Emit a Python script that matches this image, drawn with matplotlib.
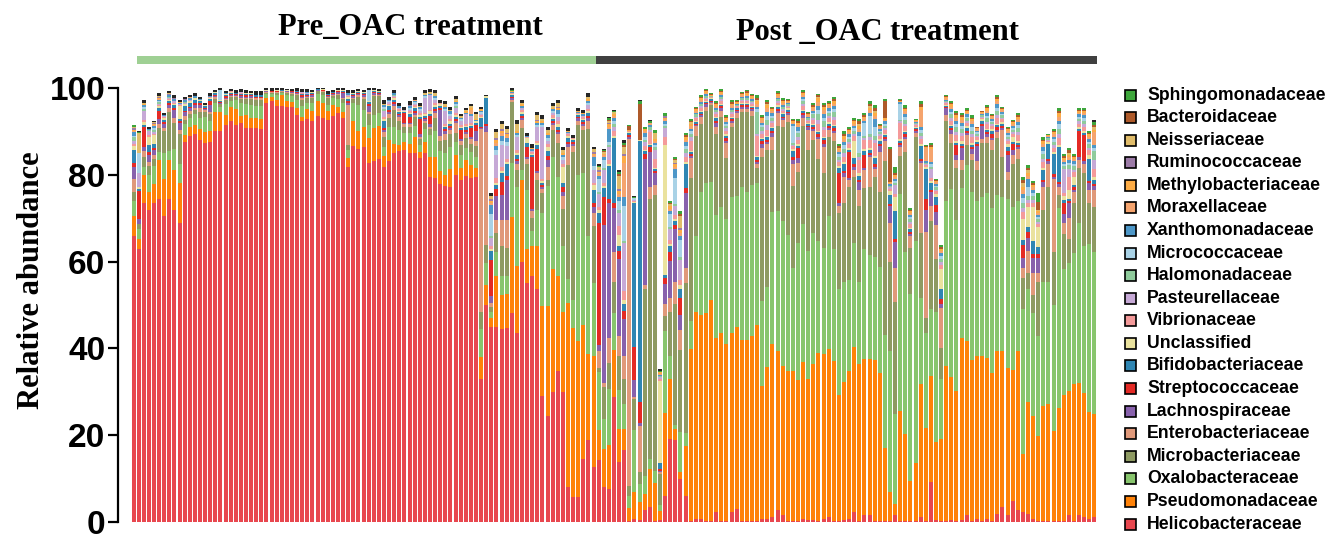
import numpy as np
import matplotlib.pyplot as plt
from matplotlib.patches import Rectangle

# relative abundance per sample (bars 1-91 pre, 92-189 post), bottom to top
helico = [66, 63, 73.5, 72, 73.5, 74.5, 70.5, 74.5, 72, 69,
          87.6, 89, 89.5, 88, 87.4, 87.5, 90, 90, 91.4, 92.3,
          91.4, 92, 90.7, 90.7, 90.8, 90.5, 96.6, 97, 95.8, 95.8,
          95.6, 95.7, 93.8, 92.3, 92.9, 92.4, 93.6, 93.2, 92.6, 93.6,
          94.2, 93, 81.8, 86.7, 86, 86.5, 82.8, 83.2, 83.7, 81.8,
          83.2, 85, 85.4, 85.6, 85.1, 85, 83.8, 85, 79.6, 79.2,
          77.9, 77.5, 77.3, 79.9, 78.8, 79.8, 79.2, 79.5, 33, 50,
          45, 45, 44.4, 44.8, 48.2, 43.6, 59.8, 55, 56.7, 53.8,
          29, 24.5, 29.9, 34.8, 29.9, 8, 5.7, 5.7, 14.5, 18.8,
          12.6, 14.2, 8, 7.7, 28.7, 13.8, 16.5, 0.3, 0.8, 0.4,
          2.7, 3.4, 0.3, 0.5, 6.1, 19.1, 18.8, 10, 6.1, 0.3,
          0.8, 0.8, 0.3, 0.2, 2.3, 0.3, 0.3, 2.3, 3, 0.3,
          0.3, 0.3, 0.3, 0.8, 0.8, 1.1, 2.7, 1.5, 0.3, 0.3,
          0.3, 0.8, 0.4, 0.4, 0.3, 0.8, 1.1, 0.3, 0.2, 0.4,
          0.8, 2.3, 0.3, 1.5, 1.5, 0.3, 0.3, 0.3, 0.3, 1.5,
          0.3, 0.3, 0.3, 0.3, 1.1, 0.3, 9.2, 0.5, 0.3, 0.3,
          0.4, 0.3, 0.4, 1.5, 0.3, 0.8, 0.3, 0.8, 0.3, 1.9,
          3.4, 1.5, 4.9, 2.7, 2.3, 1.9, 0.8, 0.3, 0.3, 0.3,
          0.3, 0.3, 0.3, 1.5, 0.3, 1.5, 1.1, 0.8, 1.1]
pseudo = [4.5, 2.3, 6.5, 4, 4.4, 8.8, 8.5, 9, 9, 9.2,
          1.5, 2, 2, 2.5, 2.5, 2.5, 4.5, 4.5, 2.3, 3.3,
          3.8, 1.5, 3, 2.5, 2.2, 2.3, 1.2, 1, 1.5, 2.5,
          1.5, 1, 1.5, 1, 2.2, 2.2, 3.3, 3.3, 2, 2.5,
          1.5, 1.5, 2, 5.6, 4, 4.5, 5.6, 7.5, 7.5, 2.5,
          4.8, 2, 1.5, 2, 2, 3.8, 1.5, 2.5, 4.5, 5,
          3, 2.5, 4, 4.7, 2.7, 3.6, 3, 2, 5, 4.6,
          2, 11.7, 8, 7.7, 22, 15.3, 19, 7.8, 6.9, 9.8,
          20.7, 25.3, 28.3, 21.8, 18.4, 42.5, 39, 36, 31, 20,
          25.7, 6.9, 8.8, 10, 11, 7.7, 5, 3, 6, 4.2,
          3.8, 8.8, 8.8, 2, 19, 13.8, 2.7, 1.5, 11.5, 39.5,
          47.5, 47, 47.9, 51, 40, 43.3, 40.6, 41.3, 42, 41.7,
          41.7, 42.5, 45.2, 30.6, 35, 39.8, 36.8, 34.5, 34.5, 34.5,
          32.5, 36, 32.5, 36, 38.7, 37.9, 38.7, 36.8, 29, 31.8,
          34, 38, 36, 36, 36, 37, 34, 16.8, 6.5, 2.7,
          25.3, 20, 9.2, 13.4, 30.6, 21.4, 24.5, 18, 18.8, 35.6,
          33, 29.9, 42.1, 40.2, 37.1, 37.5, 37.9, 37, 34, 37.5,
          36, 34, 30.2, 36.8, 13.4, 25.7, 23.7, 19.5, 26.4, 26.8,
          20.7, 26, 29, 28.7, 31.4, 30.6, 28.7, 24.5, 23.7]
oxalo = [3.5, 2.3, 1.7, 4, 4.1, 2, 6, 2, 5, 4.2,
         2.5, 2, 2.5, 2.5, 3.5, 2.5, 2, 1.2, 2.5, 1.5,
         2, 3, 2.5, 2.8, 2.8, 3, 0.8, 0.6, 1, 0.5,
         1.3, 1.5, 2, 2.5, 1.5, 2, 1.8, 2, 1.5, 1.5,
         1.8, 2, 2, 4.2, 6, 4, 3, 3, 3, 2,
         3, 4, 3.5, 2, 2.5, 2.5, 1.5, 3, 5, 6,
         4.5, 5, 5, 3, 3, 2.7, 3, 2.7, 6.5, 5,
         1.5, 5.4, 4.2, 4.2, 12.6, 18.4, 2.3, 13.8, 3.5, 8.4,
         21.4, 27.6, 26, 23, 15.3, 5.4, 6.5, 38.3, 34.8, 27.2,
         16.8, 13.4, 6.9, 13, 8.4, 8.8, 5.7, 2.7, 14.5, 4.2,
         4.2, 2.3, 2.7, 1.5, 19, 5.4, 0.8, 9.2, 3, 6.5,
         17.6, 28.3, 30, 27.2, 28.4, 29, 29, 31.4, 30.2, 35.2,
         34, 34.8, 32.5, 19.5, 18.4, 30.6, 32.2, 33.3, 31.4, 23.7,
         31.4, 31.8, 29.5, 30.2, 25.7, 24.5, 30.6, 25.7, 24.5, 23,
         21, 24, 19, 25.3, 24, 23.7, 24.5, 26, 32.5, 20.7,
         50, 42, 43, 51, 20, 21.8, 15.3, 30, 13.8, 38,
         43.3, 39.4, 34.5, 40.6, 38.7, 35.6, 36.8, 38, 38, 36,
         35.6, 39, 37.5, 34.5, 33.3, 26, 23.7, 23, 28.7, 28.3,
         29, 46, 29, 29.5, 30.2, 36.8, 33.7, 38.7, 37.5]
microbact = [2, 1, 2.5, 2, 1.6, 5.5, 5, 9, 6, 7,
             1, 1, 1, 1.5, 1, 1.5, 1, 0.5, 1, 0.8,
             0.8, 1, 1.2, 1.5, 1.5, 1.5, 0.3, 0.3, 0.5, 0.3,
             0.5, 0.5, 1, 1.5, 1, 1, 0.5, 0.6, 1.5, 0.5,
             0.8, 1, 1, 1, 2, 2.5, 2.5, 4.5, 4, 2.5,
             2, 4, 2, 1.5, 1.5, 2, 1.5, 1.5, 1.5, 3,
             2.5, 3, 3, 2, 2.3, 2.3, 2, 2.5, 4, 4.2,
             1, 4.6, 7, 6.5, 14, 3.8, 9.6, 6, 3, 6.9,
             4.6, 1.5, 6.2, 7.7, 8.5, 26.4, 34, 11.5, 10, 24.5,
             13, 1, 7.3, 6, 7.3, 8, 5.7, 2.3, 7, 2.7,
             43, 60, 63.5, 7, 3.4, 10, 28, 19, 34.5, 33,
             23, 15.7, 16.5, 17.6, 18.8, 20.7, 14, 16, 18, 17.2,
             18.4, 16, 3.5, 33.3, 31.4, 14.2, 19.5, 21.8, 26, 19,
             16.5, 22.6, 23.4, 21.4, 19, 17.2, 18.4, 24.9, 17.6, 18.4,
             21.4, 15.3, 17.6, 14.2, 15.7, 18.4, 17.2, 40, 20.7, 25.7,
             8.8, 23, 10.7, 24, 15, 3.4, 20.3, 12, 7.3, 18.4,
             10.7, 11.9, 4.2, 4.6, 7.3, 7.3, 12.3, 11.5, 13.4, 13,
             9.2, 4.2, 10, 9.6, 7.3, 3.8, 4.2, 12.6, 16.5, 21.8,
             12.3, 3, 8, 5.4, 11.5, 12.6, 16.8, 9.6, 10.3]
entero = [3, 0, 1.3, 1, 1, 1, 0.8, 1, 1, 1,
          1, 0.8, 0.5, 1, 0.5, 0.5, 0.4, 0.2, 0.3, 0.3,
          0.2, 0.3, 0.3, 0.3, 0.3, 0.3, 0.2, 0.1, 0.2, 0.1,
          0.2, 0.2, 0.3, 0.5, 0.3, 0.4, 0.2, 0.2, 0.3, 0.3,
          0.3, 0.3, 9.2, 0.3, 0.3, 0.5, 0.5, 0.3, 0.3, 1,
          1, 0.8, 1, 0.5, 0.5, 0.5, 0.5, 0.5, 0.5, 1,
          1, 1.5, 1, 2.3, 1, 1, 1, 1, 42, 26,
          1, 3, 6, 6.5, 0.5, 1.5, 1.9, 1, 1.5, 1.5,
          1, 3, 1, 2, 3, 4.2, 1.5, 1, 1, 2,
          3, 3.8, 1, 5.8, 6.9, 4.6, 5.4, 80, 0.5, 10.7,
          1, 2.7, 2.3, 0.5, 2.7, 3.4, 5, 4.6, 3.4, 4.6,
          2.3, 1.5, 1, 0.5, 1.5, 1.5, 3.5, 1, 1, 0.8,
          0.8, 1, 1, 2, 1.5, 3, 3, 1.5, 1.5, 5,
          2, 2, 4.6, 2, 4.6, 6.1, 1.5, 2, 1.5, 6,
          1.5, 1.5, 3.5, 4, 6.9, 2, 9.2, 4.6, 9, 8,
          2, 3, 2.7, 1, 16, 20, 3.4, 8, 9, 1.5,
          2, 2, 2.3, 2.3, 1.5, 2, 1, 1.5, 2.3, 1.5,
          6.1, 2, 2, 2.3, 2.3, 5, 5, 2, 5.4, 5.4,
          16.8, 2, 2.7, 5, 2.7, 2, 2.3, 3, 3.8]
lachno = [2.7, 1.2, 0.8, 1.5, 1, 1, 0.8, 0.5, 2, 1.5,
          0.8, 0.5, 0.5, 0.5, 0.3, 1.5, 0.3, 0.2, 0.3, 0.3,
          0.2, 0.3, 0.3, 0.3, 0.2, 0.2, 0.1, 0.1, 0.1, 0.1,
          0.1, 0.1, 0.2, 0.2, 0.2, 0.3, 0.1, 0.1, 0.3, 0.2,
          0.4, 1, 0.5, 0.3, 0.3, 0.3, 1.5, 0.3, 0.2, 0.5,
          0.5, 0.5, 0.3, 0.3, 0.3, 0.5, 0.5, 0.3, 0.5, 0.5,
          6, 0.5, 0.5, 0.5, 0.5, 0.5, 0.5, 2.3, 0.3, 1.5,
          1.5, 5.5, 5.8, 9.2, 0.3, 0.5, 0.5, 0.5, 0.5, 0.5,
          0.5, 1.5, 0.5, 0.5, 1, 0.5, 0.3, 0.5, 0.5, 0.5,
          1.5, 1.5, 36.5, 31, 10, 17.6, 8.4, 0.5, 4, 0.5,
          29, 8, 2.7, 0.3, 4.6, 8.4, 12.3, 3.4, 17.3, 0.5,
          0.3, 0.5, 0.5, 0.3, 1, 0.5, 0.5, 0.5, 0.5, 0.5,
          0.5, 0.5, 0.5, 1, 0.5, 1, 0.5, 0.5, 0.5, 1,
          1.2, 0.5, 0.5, 0.5, 0.5, 0.5, 0.5, 0.5, 0.8, 0.8,
          0.5, 0.8, 1.9, 0.5, 0.5, 0.5, 1.5, 0.5, 3.8, 6,
          0.5, 0.5, 0.5, 0.5, 0.5, 5, 3.4, 3, 1, 1.5,
          1, 1, 2.7, 0.5, 1, 3.4, 3, 0.5, 0.5, 0.5,
          0.5, 3.8, 1, 0.5, 2.3, 3, 3.4, 3.4, 1, 0.5,
          0.5, 0.5, 1.9, 3.4, 0.5, 0.5, 0.5, 1.5, 1]
strepto = [1, 6.5, 4.6, 0.8, 0.5, 2, 0.5, 0.5, 0.5, 0.5,
           0.3, 0.3, 0.5, 0.5, 0.3, 1, 0.3, 0.2, 0.3, 0.2,
           0.2, 0.3, 0.3, 0.3, 0.2, 0.2, 0.1, 0.1, 0.2, 0.1,
           0.1, 0.2, 0.2, 0.3, 0.2, 0.3, 0.1, 0.1, 0.2, 0.2,
           0.2, 0.2, 0.5, 0.3, 0.3, 0.3, 0.3, 0.3, 0.2, 0.5,
           0.5, 0.5, 0.3, 2.3, 1.5, 0.5, 3.5, 0.3, 2, 0.5,
           0.5, 0.5, 0.5, 0.5, 2, 0.5, 2, 1.5, 0.3, 0.5,
           8.4, 1.5, 3, 0.8, 0.3, 0.5, 0.5, 2.3, 12, 5,
           0.5, 1, 0.5, 0.5, 1, 0.5, 0.5, 0.3, 0.3, 0.5,
           1, 28, 6.5, 1, 1.2, 2, 2, 0.3, 7.6, 5,
           1.2, 1.2, 0.5, 0.3, 1.5, 2, 0.8, 4, 1.2, 0.3,
           0.3, 0.3, 0.3, 0.3, 0.5, 0.5, 0.5, 0.3, 0.3, 0.3,
           0.3, 0.3, 0.5, 0.5, 0.5, 0.5, 0.5, 0.3, 0.3, 0.5,
           2.3, 0.5, 0.3, 0.5, 0.5, 1, 0.5, 0.5, 6.9, 0.5,
           6, 0.5, 0.5, 3, 0.5, 0.5, 0.5, 0.5, 0.5, 0.5,
           0.5, 0.5, 0.5, 0.3, 0.5, 2.5, 0.5, 1.5, 1.2, 0.3,
           0.3, 2.3, 0.5, 0.5, 0.5, 0.5, 0.5, 0.5, 1, 0.5,
           0.5, 1, 1.5, 0.5, 3, 1.5, 1, 1, 0.5, 0.5,
           0.5, 0.5, 2.7, 0.5, 0.5, 6, 6, 0.5, 0.5]
bifido = [3, 0.5, 0.6, 1.5, 1, 0.5, 0.5, 0.5, 0.5, 0.5,
          1.2, 1, 0.8, 0.5, 0.3, 0.5, 0.3, 0.2, 0.3, 0.2,
          0.2, 0.2, 0.3, 0.3, 0.3, 0.3, 0.1, 0.1, 0.1, 0.1,
          0.1, 0.1, 0.2, 0.3, 0.3, 0.3, 0.1, 0.1, 0.2, 0.2,
          0.2, 0.3, 0.5, 0.3, 0.2, 0.3, 0.5, 0.3, 0.2, 1.5,
          0.8, 0.5, 0.5, 0.3, 0.5, 0.5, 0.5, 0.5, 0.5, 0.5,
          0.5, 0.5, 0.5, 0.5, 0.5, 0.5, 0.5, 0.5, 2, 6,
          2, 1, 2, 2.7, 0.5, 1, 0.5, 1, 0.5, 1,
          0.5, 1, 0.5, 0.8, 1, 1, 0.5, 0.5, 0.5, 0.8,
          3, 2.5, 2, 7.5, 15, 1, 1.5, 0.5, 33, 60,
          0.5, 0.5, 0.5, 1.5, 0.5, 1.5, 1, 2, 5.4, 0.5,
          0.3, 0.3, 0.3, 0.3, 0.5, 0.3, 0.5, 0.3, 0.3, 0.3,
          0.3, 0.3, 0.5, 0.5, 0.5, 0.5, 0.5, 0.5, 0.5, 1.5,
          0.5, 0.5, 0.5, 0.5, 0.5, 0.5, 0.5, 0.5, 1, 1.5,
          0.5, 1.5, 1, 1, 0.5, 1.5, 0.5, 0.5, 2, 6.5,
          0.5, 0.5, 0.5, 0.3, 3, 7, 1.5, 2, 2.3, 0.3,
          0.5, 0.5, 0.5, 0.5, 0.5, 0.5, 0.5, 0.5, 0.5, 0.5,
          0.5, 1, 0.5, 0.5, 1, 1, 3, 1.5, 2.3, 3.4,
          4.6, 8, 0.5, 0.5, 0.5, 0.5, 0.5, 5, 1]
unclass = [1, 0.5, 0.6, 2, 2, 0.5, 0.5, 0.3, 0.3, 3,
           0.3, 0.3, 0.3, 0.2, 0.2, 0.2, 0.2, 0.2, 0.2, 0.1,
           0.1, 0.1, 0.2, 0.2, 0.2, 0.2, 0.1, 0.1, 0.1, 0.1,
           0.1, 0.1, 0.1, 0.1, 0.1, 0.1, 0.1, 0.1, 0.1, 0.1,
           0.1, 0.3, 0.5, 0.1, 0.1, 0.1, 0.3, 0.1, 0.1, 0.5,
           0.3, 0.3, 0.3, 0.3, 0.3, 0.3, 0.5, 0.3, 0.5, 0.3,
           0.3, 0.3, 0.5, 0.3, 0.3, 0.3, 0.3, 0.3, 0.3, 0.3,
           0.5, 0.5, 0.5, 0.5, 0.3, 0.5, 0.3, 1, 0.3, 0.5,
           0.3, 1, 0.3, 0.5, 3.8, 0.5, 0.3, 0.3, 0.3, 0.3,
           1, 0.5, 0.5, 0.5, 0.5, 2.7, 1, 0.3, 0.3, 0.3,
           0.3, 0.3, 0.3, 19, 30, 0.5, 0.5, 1, 0.5, 0.3,
           0.3, 0.3, 0.2, 0.2, 0.3, 0.3, 0.5, 0.2, 0.2, 0.2,
           0.2, 0.2, 0.3, 0.3, 0.3, 0.3, 0.3, 0.3, 0.3, 0.5,
           0.3, 0.3, 0.3, 0.3, 0.3, 0.3, 0.3, 0.3, 0.5, 0.5,
           0.5, 4, 0.5, 0.5, 0.5, 0.5, 0.5, 0.3, 1, 3.4,
           0.3, 0.3, 0.3, 0.2, 0.5, 0.5, 0.5, 0.5, 4.6, 0.2,
           0.3, 0.5, 0.5, 0.5, 0.5, 0.5, 0.5, 0.3, 0.5, 0.3,
           0.3, 0.5, 1, 0.5, 5, 4.6, 7.7, 4.6, 0.5, 0.5,
           0.5, 0.5, 1, 1.9, 2, 0.5, 0.5, 1, 0.5]
vibrio = [0.5, 0, 0.5, 0.4, 0.3, 0.3, 0.2, 0.2, 0.3, 0.2,
          0.2, 0.2, 0.1, 0, 0, 0.2, 0, 0, 0, 0.2,
          0, 0.2, 0, 0, 0, 0, 0, 0, 0, 0,
          0, 0, 0, 0.2, 0, 0, 0, 0, 0, 0,
          0, 0, 0.2, 0, 0, 0, 0, 0, 0, 0.5,
          0.3, 0.3, 0.3, 0, 0.4, 0.4, 0.4, 0.4, 0.3, 0.5,
          0.3, 0.5, 0.5, 0.6, 0.4, 0.4, 0.5, 0.2, 0.3, 0,
          0.6, 1, 1, 0.8, 0.2, 0.6, 0.5, 0.3, 0.3, 0.5,
          0.5, 0.7, 0.5, 0.8, 0.7, 0.3, 0.2, 0.2, 0.4, 0.6,
          0.6, 0.7, 0.6, 0.8, 1, 2, 2, 0.2, 0.3, 0,
          1, 2.7, 2, 0.4, 2, 0.8, 0.8, 1, 1.2, 2.3,
          0.6, 0.7, 0.5, 0.3, 0.7, 0.6, 0.8, 0.7, 0.3, 0.5,
          0.5, 0.5, 4.6, 1, 1.5, 0.9, 0.6, 0.6, 0.4, 0.6,
          1.1, 0.9, 0.5, 0.9, 1.6, 1.5, 0.9, 1.2, 1, 1.3,
          0.9, 1, 3, 2, 2, 3, 0.7, 0.8, 0.5, 0.6,
          3.8, 1.1, 0.9, 0.4, 1.1, 0.4, 0.7, 0.7, 1, 0.4,
          1, 1.3, 1.2, 0.8, 1.2, 0.6, 0.4, 1, 0.7, 1.3,
          0.7, 0.8, 0.8, 1.2, 1.5, 1.1, 1.1, 0.8, 1.3, 0.4,
          1, 1.6, 0.8, 3, 1, 0.8, 1, 1, 2]
pasteur = [0.5, 3, 2.1, 0.8, 0.5, 0.3, 0.2, 0.3, 0.3, 0.2,
           0.2, 0.2, 0.1, 0, 0, 0, 0, 0, 0, 0,
           0, 0.2, 0, 0, 0, 0, 0, 0, 0, 0,
           0, 0, 0, 0.2, 0.2, 0, 0, 0, 0, 0,
           0, 0, 0.3, 0, 0, 0, 0, 0, 0, 1.5,
           0.3, 0.3, 0.3, 0.2, 0.4, 0.4, 0.5, 3.5, 3.5, 0.8,
           0, 3, 0.8, 1, 1, 2.3, 1.5, 0, 0.4, 0,
           2, 5.4, 5, 3, 0, 3, 0.5, 0, 0.3, 3,
           12, 0.8, 0.5, 1, 0.8, 0.3, 0, 0, 0.3, 0.8,
           3, 3, 3, 3, 1, 3, 11, 0, 0.3, 0,
           0.8, 0.5, 2, 0.3, 2, 2.5, 2, 4.6, 1, 0.8,
           0.4, 0.4, 0.3, 0, 0.4, 0.4, 0.5, 0.4, 0, 0.3,
           0.3, 0.3, 0.6, 0.6, 1, 0.5, 0.3, 0.4, 0.2, 0.3,
           0.6, 0.4, 0.2, 0.5, 0.9, 0.8, 0.5, 0.7, 0.5, 0.8,
           0.5, 0.5, 0.8, 0.5, 0.7, 0.7, 0.4, 0.4, 0.3, 2,
           0.3, 0.6, 0.5, 0.2, 0.6, 0.2, 2, 0.4, 0.6, 0.2,
           0.6, 0.8, 0.7, 0.4, 0.7, 0.3, 0.2, 0.6, 0.4, 0.7,
           0.4, 0.4, 0.4, 0.7, 1, 0.7, 0.7, 0.5, 0.8, 0.2,
           0.6, 1, 5.4, 2, 0.6, 0.5, 0.6, 0.6, 2]
halomon = [1, 0, 0.5, 0.3, 0.5, 0.3, 0, 0.2, 0.2, 0,
           0.2, 0, 0, 0, 0, 0, 0, 0, 0, 0,
           0, 0, 0, 0, 0, 0, 0, 0, 0, 0,
           0, 0, 0, 0, 0, 0, 0, 0, 0, 0,
           0, 0, 0, 0, 0, 0, 0, 0, 0, 0.3,
           0, 0.3, 0, 0, 0, 0, 0, 0, 0, 0,
           0, 0, 0, 0.5, 0, 0, 0, 0, 0, 0,
           0.5, 0, 0, 0, 0, 0, 0, 0, 0, 0,
           0, 0, 0, 0, 0, 0, 0, 0, 0, 0,
           0, 0.5, 0.4, 0.6, 0.6, 0.8, 0.6, 0, 0, 0,
           0.5, 0.6, 0.7, 0.3, 0.5, 0.6, 0.6, 0.8, 0.8, 0.8,
           0.5, 0.5, 0.4, 0.2, 0.5, 0.5, 0.6, 0.6, 0.3, 0.4,
           0.5, 0.4, 5, 0.8, 1.3, 0.7, 0.5, 0.5, 0.3, 0.5,
           0.9, 0.7, 0.4, 0.7, 1.3, 1.2, 0.7, 1, 0.7, 1,
           0.7, 0.7, 0.9, 0.5, 0.7, 0.8, 0.5, 0.6, 0.4, 0.5,
           0.3, 0.9, 0.7, 0.3, 0.8, 0.3, 0.6, 0.5, 0.8, 0.3,
           0.8, 1, 1, 0.6, 0.9, 0.5, 0.3, 0.8, 0.5, 1,
           0.5, 0.6, 0.6, 0.9, 1.2, 0.8, 0.9, 0.6, 1, 0.3,
           0.8, 1.2, 0.7, 0.8, 0.8, 0.6, 0.8, 0.8, 2]
micrococ = [0.3, 4.8, 0.4, 0, 0.3, 0.2, 0, 0, 0, 0,
            0, 0, 0, 0, 0, 0, 0, 2.3, 0, 0,
            0, 0, 0, 0, 0, 0, 0, 0, 0, 0,
            0, 0, 0, 0, 0, 0, 0, 0, 0, 0,
            0, 0, 0, 0, 0, 0, 2.5, 0, 0, 0.5,
            0.3, 0, 0, 0, 0.4, 0.3, 0.5, 0.3, 0, 0.4,
            0, 0.3, 0.5, 0.4, 0.3, 0, 0, 0, 0.3, 0,
            5, 1, 1, 0.8, 0, 0.5, 0, 0, 0, 0.5,
            0.5, 0.6, 0.4, 0.7, 0.6, 0, 0, 0, 0, 0.5,
            0.8, 3, 2, 0.6, 0.7, 2, 8, 0, 0.3, 0,
            0.8, 0, 0.5, 0, 0.5, 3, 6, 3.8, 0.8, 0.6,
            0, 0, 0, 0, 0, 0, 0.4, 0, 0, 0,
            0, 0, 0.6, 0.5, 0.8, 0.5, 0, 0, 0, 3.8,
            0.6, 0.4, 0, 0.4, 1, 0.9, 0.5, 0.7, 0.5, 0.8,
            0.5, 0.6, 4, 3, 4, 2, 0.4, 0.5, 0, 0.5,
            3.8, 0.6, 0.5, 0, 0.6, 0, 0.5, 0.4, 0.6, 0,
            0.6, 0.8, 0.7, 0.4, 0.7, 0.3, 0, 0.6, 0.4, 0.7,
            0.4, 0.4, 0.4, 0.7, 1, 2, 0.7, 0.5, 0.8, 0,
            0.6, 1, 0.5, 0.6, 0.6, 0.5, 0.6, 0.6, 0.7]
xantho = [0.8, 0, 0.4, 0.3, 0.5, 0.4, 0.2, 0.3, 0.3, 0.2,
          0.4, 0.4, 0.3, 0.2, 0, 0.2, 0, 0, 0.2, 0,
          0, 0, 0, 0, 0, 0, 0, 0, 0, 0,
          0, 0, 0, 0, 0.2, 0, 0, 0, 0, 0,
          0, 0, 0.3, 0, 0, 0, 0, 0, 0, 0.5,
          0.3, 0.3, 0.4, 0, 0.4, 0.4, 0.4, 0.3, 0.3, 0.5,
          0, 0.5, 0.5, 0.6, 0.4, 0.4, 0.5, 0.2, 0.4, 0,
          2, 1, 1, 1, 0.2, 0.5, 0.5, 0.3, 0.4, 0.5,
          0.5, 0.7, 0.5, 0.8, 0.6, 0.3, 0, 0.2, 0.3, 0.6,
          2, 0.8, 0.6, 3, 0.8, 0.8, 2, 0, 0, 0,
          0.8, 0.5, 0.5, 0.3, 0.5, 0.6, 2, 1, 0.8, 0.6,
          0.4, 0.5, 0.4, 0, 0.5, 0.4, 0.5, 0.5, 0.3, 0.3,
          0.4, 0.4, 0.6, 0.6, 1, 0.6, 0.4, 0.4, 0.3, 0.4,
          0.7, 0.5, 0.3, 0.5, 1, 0.9, 0.6, 0.7, 0.6, 0.8,
          0.6, 0.6, 0.8, 0.5, 0.7, 2, 0.4, 0.5, 0.3, 0.5,
          0.3, 0.7, 0.5, 0.3, 0.7, 0.3, 0.5, 0.4, 0.6, 0.3,
          0.6, 0.8, 0.7, 0.5, 0.7, 0.4, 0.3, 0.6, 0.4, 0.8,
          0.4, 0.5, 0.5, 0.7, 1, 2, 0.7, 0.5, 0.8, 0.3,
          0.6, 0.9, 0.5, 0.6, 0.6, 0.5, 0.6, 0.6, 0.7]
moraxe = [0.3, 0, 0, 0, 0.2, 0.2, 0, 0, 0, 0,
          0, 0.2, 0, 0, 0, 0, 0, 0, 0, 0,
          0, 0, 0, 0, 0, 0, 0, 0, 0, 0,
          0, 0, 0, 0, 0, 0, 0, 0, 0, 0,
          0, 0, 0, 0, 0, 0, 0, 0, 0, 0,
          0, 0, 0, 0, 0, 0.2, 0, 0, 0, 0,
          0, 0, 0, 0, 0, 0, 1, 0, 0, 0,
          0.5, 0.8, 0.8, 0.5, 0, 0, 0, 0, 0, 0,
          0, 0, 0, 0, 0, 0, 0, 0, 0, 0,
          0.5, 0.5, 0.4, 0.6, 0.5, 0.8, 8, 0, 0, 0,
          0.5, 0.4, 0.5, 0.3, 0.5, 0.6, 0.6, 0.8, 0.6, 0.6,
          0.4, 0.4, 0.3, 0, 0.4, 0.4, 0.5, 0.5, 0, 0.3,
          0.3, 0.3, 0.6, 0.6, 0.8, 0.5, 0.4, 0.4, 0.3, 0.4,
          0.6, 0.5, 0.3, 0.5, 0.9, 0.8, 0.5, 0.6, 0.5, 0.7,
          0.5, 0.5, 0.8, 0.5, 0.7, 0.7, 0.4, 0.4, 0.3, 0.5,
          0, 0.6, 0.5, 0.2, 4, 3, 3, 0.4, 0.6, 0.3,
          0.6, 0.7, 0.7, 0.4, 0.7, 0.3, 0.2, 0.6, 0.4, 0.7,
          0.4, 0.4, 0.4, 0.7, 0.9, 0.7, 0.6, 0.4, 0.7, 0.2,
          0.6, 0.9, 0.5, 0.6, 0.5, 0.4, 0.5, 0.6, 3]
methylo = [0.3, 0, 0.3, 0, 0.2, 0.2, 0, 0, 0, 0.2,
           0, 0, 0, 0, 0, 0, 0, 0, 0, 0,
           0, 0, 0, 0, 0, 0, 0, 0, 0, 0,
           0, 0, 0, 0, 0, 0, 0, 0, 0, 0,
           0, 0, 0, 0, 0, 0, 0, 0, 0, 0,
           0, 0, 0, 0, 0, 0, 0, 0, 0, 0,
           0, 0.2, 0, 0.2, 0, 0.3, 0.3, 0.2, 0.3, 0,
           0.5, 0.6, 0.5, 0.3, 0.2, 0.4, 0.3, 0, 0.3, 0.4,
           0.4, 0.4, 0.3, 0.5, 0.4, 0.2, 0, 0.2, 0.3, 0.4,
           0.4, 0.4, 0.4, 0.5, 0.4, 0.6, 1.5, 0.2, 0, 0,
           0.4, 0, 0.4, 0.3, 0.4, 0.5, 0.5, 0.6, 0.5, 0.5,
           0.4, 0.5, 0.4, 0.3, 0.4, 0.4, 0.4, 0.4, 0.3, 0.3,
           0.4, 0.3, 0.6, 0.5, 0.7, 0.4, 0.4, 0.4, 0.3, 0.4,
           0.5, 0.4, 0.3, 0.4, 0.8, 0.7, 0.4, 0.6, 0.4, 0.6,
           0.4, 0.5, 0.7, 0.4, 0.6, 0.6, 0.3, 0.4, 0.3, 0.4,
           0.3, 0.5, 0.4, 0.2, 0.6, 0.3, 0.4, 0.3, 0.5, 0.3,
           0.5, 0.6, 0.6, 0.4, 0.6, 0.3, 0.2, 0.5, 0.3, 0.6,
           0.3, 0.4, 0.4, 0.6, 0.8, 0.6, 0.5, 0.4, 0.7, 0.2,
           0.5, 0.8, 0.4, 0.6, 0.5, 0.4, 0.5, 0.5, 0.6]
rumino = [0.3, 0, 0, 0, 0.3, 0.3, 0, 0.3, 0.2, 0,
          0.2, 0, 0.1, 0, 0, 0, 0, 0, 0, 0,
          0, 0, 0, 0, 0, 0, 0, 0, 0, 0,
          0, 0, 0, 0, 0, 0, 0, 0, 0, 0,
          0, 0, 0, 0, 0, 0, 0, 0, 0, 0,
          0, 0, 0, 0, 0.3, 0, 0, 0, 0, 0,
          0, 0, 0, 0, 0, 0, 0, 0, 0, 0,
          0.4, 0.4, 0.4, 0.3, 0, 0, 0, 0, 0, 0.4,
          0, 0, 0, 0.3, 0, 0, 0, 0, 0, 0,
          0.4, 0.4, 0, 0.3, 0, 0.5, 0.5, 0, 0, 0,
          0, 0, 0, 0, 0.4, 0, 0.4, 0.5, 0, 0,
          0, 0, 0, 0, 0, 0, 0, 0, 0, 0,
          0, 0, 0, 0, 0, 0, 0, 0, 0, 0,
          0, 0, 0, 0, 0, 0, 0, 0, 0, 0,
          0, 0, 0, 0, 0, 0, 0, 0, 0, 0,
          0, 0, 0, 0, 0, 0, 0, 0, 0, 0,
          0, 0, 0, 0, 0, 0, 0, 0, 0, 0,
          0, 0, 0, 0, 0, 0, 0, 0, 0, 0,
          0, 0, 0, 0, 0, 0, 0, 0, 0]
neisser = [0.2, 4.5, 0.3, 0, 0.2, 0.2, 0, 0.2, 0, 0,
           0, 0, 0, 0, 0, 0, 0, 0, 0, 0,
           0, 0, 0, 0, 0, 0, 0, 0, 0, 0,
           0, 0, 0, 0, 0, 0, 0, 0, 0, 0,
           0, 0, 0, 0, 0, 0, 0, 0, 0, 0.3,
           0, 0, 0, 0, 0, 0, 0.2, 0.4, 0.4, 0.6,
           0, 0.5, 0.4, 0.5, 0.3, 0.4, 0.5, 1.2, 0, 0,
           0.7, 1.5, 1.2, 1, 0, 1.5, 0.4, 0, 0, 1,
           0.5, 0.7, 0.4, 0.8, 0.7, 0, 0, 0, 0, 0.5,
           0.6, 0.6, 0.4, 0.6, 0.5, 3, 1.5, 0, 0, 0,
           0, 0, 1.5, 0, 0, 0.5, 0.5, 2.7, 0, 0.4,
           0, 0, 0, 0, 0, 0, 0, 0, 0, 0,
           0, 0, 0.4, 0, 0.4, 0, 0, 0, 0, 0,
           0, 0, 0, 0, 0.4, 0, 0, 0, 0, 0,
           0, 0, 0.4, 0, 0.4, 0.5, 0, 0, 0, 0,
           0, 0, 0, 0, 0, 0, 0, 0, 0, 0,
           0, 0, 0, 0, 0, 0, 0, 0, 0, 0,
           0, 0, 0, 0, 0.8, 0.6, 0, 0.3, 0, 0,
           0, 0, 0, 0.5, 0, 0, 0, 0, 0.6]
bacteroid = [0.1, 0, 0, 0, 0, 0, 0, 0, 0, 0,
             0, 0, 0, 0, 0, 0, 0, 0, 0, 0,
             0, 0, 0, 0, 0, 0, 0, 0, 0, 0,
             0, 0, 0, 0, 0, 0, 0, 0, 0, 0,
             0, 0, 0, 0, 0, 0, 0, 0, 0, 0,
             0, 0, 0, 0, 0, 0, 0, 0, 0, 0,
             0, 0, 0, 0, 0, 0, 0, 0, 0, 0,
             0, 0, 0, 0, 0, 0, 0, 0, 0, 0,
             0, 0, 0, 0, 0, 0, 0, 0, 0, 0,
             0, 0, 0.2, 0.2, 0, 0.4, 0.5, 1, 0, 8.4,
             0, 0, 0, 0, 0, 0.3, 0.4, 0.5, 0.5, 0.3,
             0.3, 0.3, 0.2, 0.2, 0.3, 0.3, 0.3, 0.4, 0.2, 0.2,
             0.3, 0.3, 0.5, 0.3, 0.4, 0.3, 0.3, 0.3, 0.2, 0.2,
             0.4, 0.3, 0.2, 0.4, 0.3, 0.4, 0.3, 0.4, 0.4, 0.5,
             0.3, 0.3, 0.6, 0.4, 0.5, 0.6, 0.2, 4, 7.5, 0.3,
             0.2, 0.4, 0.3, 0.1, 0.6, 0.2, 0.5, 0.2, 0.4, 0.2,
             0.3, 0.4, 0.4, 0.3, 0.3, 0.1, 0.2, 0.3, 0.2, 0.4,
             0.2, 0.3, 0.2, 0.3, 0.7, 0.6, 0.3, 1.9, 0.4, 0.1,
             0.3, 0.5, 0.4, 0.5, 0.2, 0.2, 0.2, 0.3, 0.5]
sphingo = [0.5, 0.2, 0, 0, 0, 0, 0, 0, 0, 0,
           0, 0, 0, 0, 0, 0, 0, 0, 0, 0,
           0, 0, 0, 0, 0, 0, 0, 0, 0, 0,
           0, 0, 0, 0, 0, 0, 0, 0, 0, 0,
           0, 0, 0, 0, 0, 0, 0, 0, 0, 0,
           0, 0, 0, 0, 0, 0, 0, 0, 0, 0,
           0, 0, 0, 0, 0, 0, 0, 0, 0, 0,
           0, 0, 0, 0, 0.2, 0, 0, 0, 0, 0,
           0, 0, 0, 0, 0, 0, 0, 0, 0, 0,
           0, 0.3, 0.3, 0.4, 0.3, 0.5, 0.6, 0.2, 0.2, 0.5,
           0.5, 0.4, 0.6, 0.3, 0.6, 0.5, 0.5, 0.6, 0.5, 0.5,
           0.3, 0.4, 0.3, 0.2, 0.4, 0.4, 0.3, 0.4, 0.3, 0.3,
           0.3, 0.3, 0.5, 0.4, 0.4, 0.3, 0.3, 0.4, 0.2, 0.3,
           0.5, 0.4, 0.3, 0.4, 0.4, 0.5, 0.4, 0.5, 0.4, 0.6,
           0.4, 0.4, 0.6, 0.4, 0.5, 0.7, 0.3, 0.4, 0.4, 1.5,
           0.3, 0.5, 0.3, 0.2, 0.7, 0.2, 0.5, 0.2, 0.5, 0.2,
           0.4, 0.6, 0.5, 0.3, 0.5, 0.2, 0.2, 0.4, 0.3, 0.5,
           0.3, 0.3, 0.3, 0.5, 0.8, 0.7, 0.5, 1.9, 0.6, 0.2,
           0.4, 0.6, 0.5, 0.5, 0.4, 0.4, 0.4, 0.4, 0.6]
# dark slivers of the remaining (unlisted) families at the top of each bar
others = [0, 0.2, 0.7, 0.4, 0.3, 0.6, 0.5, 0.6, 0.7, 0.6,
          0.6, 0.6, 0.6, 0.6, 0.5, 0.7, 0.5, 0.5, 0.5, 0.6,
          0.6, 0.6, 0.7, 0.4, 0.7, 0.7, 0.5, 0.5, 0.4, 0.4,
          0.3, 0.4, 0.6, 0.7, 0.6, 0.6, 0.2, 0.3, 0.5, 0.4,
          0.4, 0.3, 0.7, 0.7, 0.5, 0.6, 0.5, 0.5, 0.6, 0.8,
          0.7, 0.7, 0.7, 0.7, 0.8, 0.7, 0.7, 0.7, 0.7, 0.7,
          0.7, 0.7, 0.7, 0.7, 0.5, 0.5, 0.6, 0.4, 0.5, 0.4,
          0.6, 0.6, 0.6, 0.6, 0.5, 1, 0.6, 0.6, 0.8, 0.8,
          0.9, 0.8, 0.7, 0.7, 0.8, 0.6, 0.6, 0.6, 0.7, 0.8,
          0.6, 0.5, 0.2, 0.3, 0.2, 0.4, 0.6, 0, 0.2, 0.3,
          0, 0.3, 0, 0.4, 0, 0, 0, 0, 0, 0,
          0, 0, 0, 0, 0, 0, 0, 0, 0, 0,
          0, 0, 0, 0, 0, 0, 0, 0, 0, 0,
          0, 0, 0, 0, 0, 0, 0, 0, 0, 0,
          0, 0, 0, 0, 0, 0, 0, 0, 0, 0,
          0, 0, 0, 0, 0, 0, 0, 0, 0, 0,
          0, 0, 0, 0, 0, 0, 0, 0, 0, 0,
          0, 0, 0, 0, 0, 0, 0, 0, 0, 0,
          0, 0, 0, 0, 0, 0, 0, 0, 0.5]

n_pre = 91
n = len(helico)

# stacking order, bottom to top
families = [
    ("Helicobacteraceae", helico, "#E8474F"),
    ("Pseudomonadaceae", pseudo, "#FF8208"),
    ("Oxalobacteraceae", oxalo, "#88C56D"),
    ("Microbacteriaceae", microbact, "#8E9A62"),
    ("Enterobacteriaceae", entero, "#E0997A"),
    ("Lachnospiraceae", lachno, "#8861AC"),
    ("Streptococcaceae", strepto, "#E42A25"),
    ("Bifidobacteriaceae", bifido, "#2F86B3"),
    ("Unclassified", unclass, "#EAE29E"),
    ("Vibrionaceae", vibrio, "#F49A9A"),
    ("Pasteurellaceae", pasteur, "#C6A9D6"),
    ("Halomonadaceae", halomon, "#8FCB9C"),
    ("Micrococcaceae", micrococ, "#A9D2E6"),
    ("Xanthomonadaceae", xantho, "#4D97C8"),
    ("Moraxellaceae", moraxe, "#F5A46E"),
    ("Methylobacteriaceae", methylo, "#FDAC45"),
    ("Ruminococcaceae", rumino, "#9C7BA7"),
    ("Neisseriaceae", neisser, "#E0BC6A"),
    ("Bacteroidaceae", bacteroid, "#AE5A2A"),
    ("Sphingomonadaceae", sphingo, "#3DA63B"),
]
for name, vals, col in families:
    assert len(vals) == n, (name, len(vals))
assert len(others) == n

W, H = 1337, 538
fig = plt.figure(figsize=(W / 100, H / 100), dpi=100)
ax = fig.add_axes([131 / W, (H - 522) / H, (1097 - 131) / W, (522 - 88) / H])

x = np.arange(n)
bottom = np.zeros(n)
for name, vals, col in families:
    v = np.array(vals, dtype=float)
    ax.bar(x, v, 0.8, bottom=bottom, color=col, linewidth=0)
    bottom += v
ax.bar(x, others, 0.8, bottom=bottom, color="#262626", linewidth=0)

ax.set_xlim(-0.5, n - 0.5)
ax.set_ylim(0, 100)
for s in ["top", "right", "bottom"]:
    ax.spines[s].set_visible(False)
ax.spines["left"].set_position(("outward", 9.5))
ax.spines["left"].set_bounds(0, 100)
ax.spines["left"].set_linewidth(1.6)
ax.set_xticks([])
ax.set_yticks([0, 20, 40, 60, 80, 100])
ax.tick_params(axis="y", length=7, width=1.6, pad=2)
for lab in ax.get_yticklabels():
    lab.set_fontfamily("Liberation Sans")
    lab.set_fontweight("bold")
    lab.set_fontsize(24)

fig.text(32 / W, (H - 280) / H, "Relative abundance", rotation=90, ha="center", va="center",
         family="Liberation Serif", fontweight="bold", fontsize=22)

# group headers and bars
fig.text(410 / W, 1 - 28 / H, "Pre_OAC treatment", ha="center", va="center",
         family="Liberation Serif", fontweight="bold", fontsize=22)
fig.text(877 / W, 1 - 32 / H, "Post _OAC treatment", ha="center", va="center",
         family="Liberation Serif", fontweight="bold", fontsize=22)
fig.patches.append(Rectangle((137 / W, (H - 64) / H), (596 - 137) / W, 8 / H,
                             transform=fig.transFigure, color="#9FD094", lw=0))
fig.patches.append(Rectangle((596 / W, (H - 64) / H), (1097 - 596) / W, 8 / H,
                             transform=fig.transFigure, color="#404040", lw=0))

# legend, top to bottom
for i, (name, vals, col) in enumerate(families[::-1]):
    yc = 95 + i * 22.58
    fig.patches.append(Rectangle((1125 / W, (H - yc - 5.5) / H), 11 / W, 11 / H,
                                 transform=fig.transFigure, facecolor=col,
                                 edgecolor="black", lw=1.2))
    fig.text(1147 / W, (H - yc) / H, name, ha="left", va="center",
             family="Liberation Sans", fontweight="bold", fontsize=12.7)

fig.savefig("out.png", dpi=100)
